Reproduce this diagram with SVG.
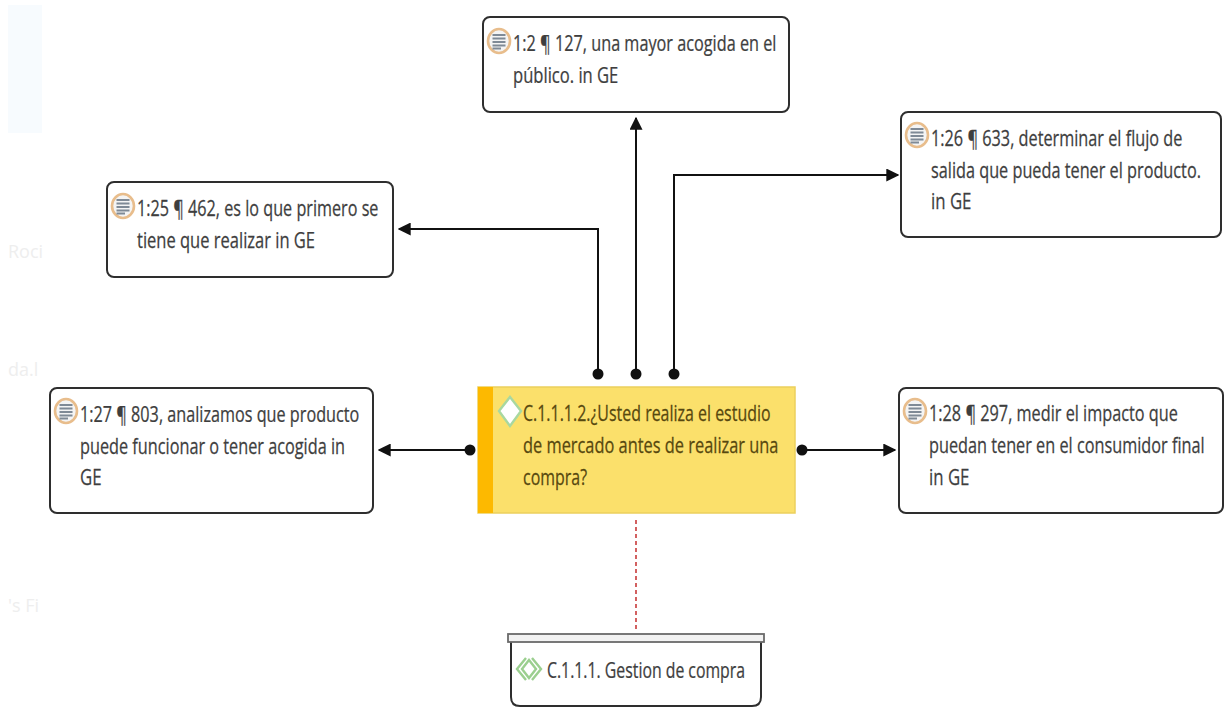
<svg xmlns="http://www.w3.org/2000/svg" width="1225" height="723" viewBox="0 0 1225 723">
<style>
.n{fill:#fff;stroke:#2e2e2e;stroke-width:2}
.t{font-family:"Open Sans","Noto Sans",sans-serif;font-size:21px;fill:#3e3e3e;stroke:#3e3e3e;stroke-width:.25}
.y{fill:#57480f;stroke:#57480f}
.c{fill:none;stroke:#111;stroke-width:2}
.d{fill:#111}
.f{font-family:"Open Sans",sans-serif;font-size:18px;fill:#eeeeee}
.ic{fill:#f4f4f4;stroke:#e8bd8c;stroke-width:2.6}
.il{stroke:#7f8a96;stroke-width:2}
</style>
<defs>
<marker id="a" viewBox="0 0 10 10" refX="9" refY="5" markerWidth="13" markerHeight="13" markerUnits="userSpaceOnUse" orient="auto"><path d="M0 0L10 5L0 10z" fill="#111"/></marker>
<g id="doc"><ellipse rx="11" ry="12" class="ic"/><path class="il" d="M-6.500-6H6.500M-6.500-2.500H6.500M-6.500 1H6.500M-6.500 4.500H6.500M-6.500 7.500H2"/></g>
</defs>
<rect x="8" y="5" width="34" height="128" fill="#f7fbfe"/>
<text class="f" x="8" y="258">Roci</text>
<text class="f" x="8" y="376">da.l</text>
<text class="f" x="8" y="612">'s Fi</text>
<g id="connectors">
<path class="c" marker-end="url(#a)" d="M598 374V229H399"/>
<path class="c" marker-end="url(#a)" d="M636 374V118"/>
<path class="c" marker-end="url(#a)" d="M674 374V175H898"/>
<path class="c" marker-end="url(#a)" d="M470 450H379"/>
<path class="c" marker-end="url(#a)" d="M802 450H895"/>
<path d="M636 520V632" fill="none" stroke="#c83a3a" stroke-width="1.6" stroke-dasharray="4 3"/>
<circle class="d" cx="598" cy="374" r="5.500"/><circle class="d" cx="636" cy="374" r="5.500"/><circle class="d" cx="674" cy="374" r="5.500"/><circle class="d" cx="470" cy="450" r="5.500"/><circle class="d" cx="802" cy="450" r="5.500"/>
</g>
<g id="n2"><rect class="n" x="483" y="17" width="306" height="95" rx="7"/><use href="#doc" x="499" y="41"/>
<text class="t" transform="matrix(.774 0 0 1 513 51)">1:2 ¶ 127, una mayor acogida en el</text><text class="t" transform="matrix(.79 0 0 1 513 83)">público. in GE</text></g>
<g id="n26"><rect class="n" x="901" y="112" width="320" height="125" rx="7"/><use href="#doc" x="917" y="135"/>
<text class="t" transform="matrix(.775 0 0 1 931 146)">1:26 ¶ 633, determinar el flujo de</text><text class="t" transform="matrix(.775 0 0 1 931 178)">salida que pueda tener el producto.</text><text class="t" transform="matrix(.8 0 0 1 931 209)">in GE</text></g>
<g id="n25"><rect class="n" x="107" y="182" width="286" height="95" rx="7"/><use href="#doc" x="123" y="206"/>
<text class="t" transform="matrix(.771 0 0 1 137 216)">1:25 ¶ 462, es lo que primero se</text><text class="t" transform="matrix(.787 0 0 1 137 248)">tiene que realizar in GE</text></g>
<g id="n27"><rect class="n" x="50" y="388" width="323" height="125" rx="7"/><use href="#doc" x="66" y="411"/>
<text class="t" transform="matrix(.772 0 0 1 80 422)">1:27 ¶ 803, analizamos que producto</text><text class="t" transform="matrix(.775 0 0 1 80 454)">puede funcionar o tener acogida in</text><text class="t" transform="matrix(.8 0 0 1 80 485)">GE</text></g>
<g id="n28"><rect class="n" x="899" y="388" width="324" height="125" rx="7"/><use href="#doc" x="915" y="411"/>
<text class="t" transform="matrix(.775 0 0 1 929 421)">1:28 ¶ 297, medir el impacto que</text><text class="t" transform="matrix(.775 0 0 1 929 453)">puedan tener en el consumidor final</text><text class="t" transform="matrix(.8 0 0 1 929 485)">in GE</text></g>
<g id="main"><rect x="478" y="387" width="317" height="126" fill="#fbe06b" stroke="#ecd05c" stroke-width="1.500"/><rect x="478" y="387" width="15" height="126" fill="#fdb900"/>
<path d="M510 397L521 411L510 426L499 411z" fill="#fff" stroke="#a8d8a0" stroke-width="2.400"/>
<text class="t y" transform="matrix(.76 0 0 1 523 421)">C.1.1.1.2.¿Usted realiza el estudio</text><text class="t y" transform="matrix(.78 0 0 1 523 453)">de mercado antes de realizar una</text><text class="t y" transform="matrix(.76 0 0 1 523 485)">compra?</text></g>
<g id="group"><path class="n" d="M511 642V697Q511 706 520 706H752Q761 706 761 697V642"/><rect x="508" y="634" width="256" height="8" fill="#f2f2f2" stroke="#6a6a6a" stroke-width="1.800"/>
<path d="M526 658L517 669L526 680M532 658L541 669L532 680M529 660L522 669L529 678L536 669z" fill="none" stroke="#9bcf8f" stroke-width="2.400"/>
<text class="t" transform="matrix(.754 0 0 1 547 678)">C.1.1.1. Gestion de compra</text></g>
</svg>
